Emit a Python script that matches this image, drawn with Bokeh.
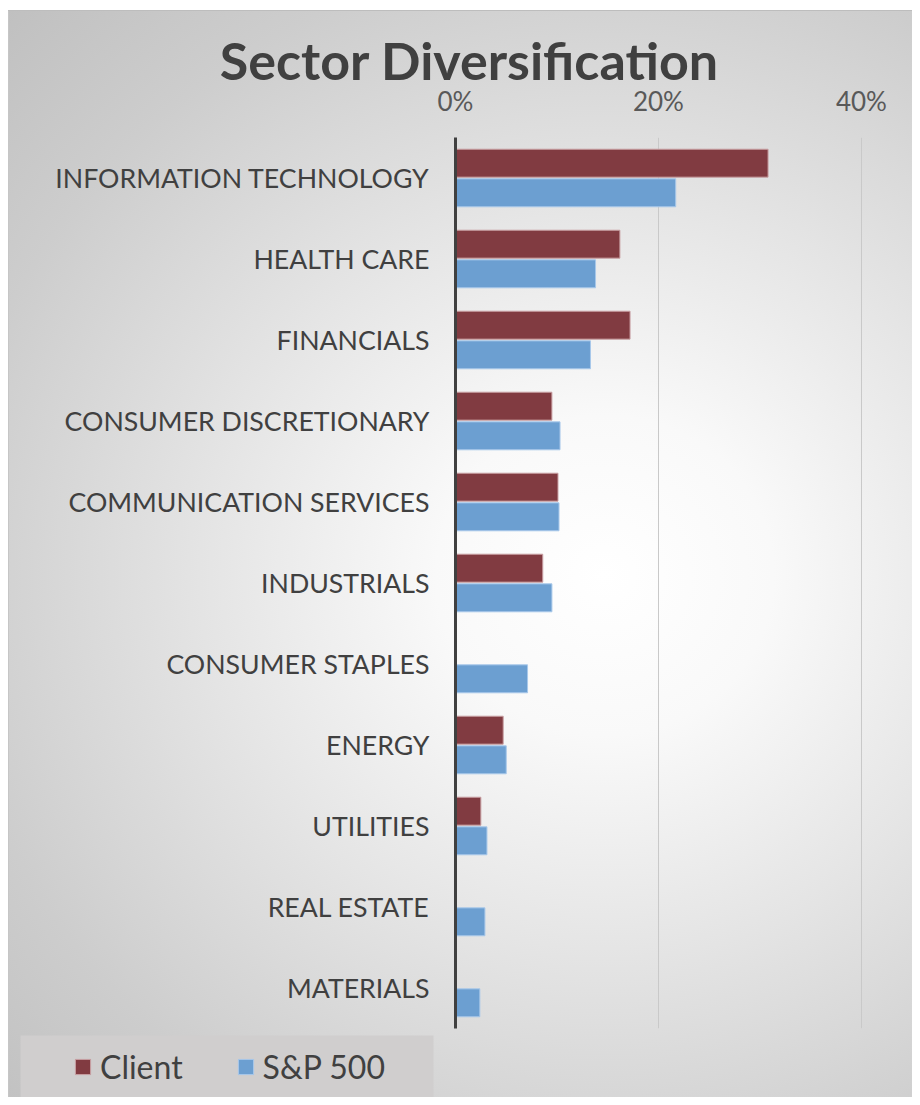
from bokeh.plotting import figure
from bokeh.layouts import column
from bokeh.models import (FactorRange, FixedTicker, Legend, LegendItem, Label,
                          ColumnDataSource, Range1d)
from bokeh.transform import dodge
from bokeh.embed import file_html
from bokeh.resources import INLINE

# ---------------- data ----------------
categories = ["INFORMATION TECHNOLOGY", "HEALTH CARE", "FINANCIALS",
              "CONSUMER DISCRETIONARY", "COMMUNICATION SERVICES", "INDUSTRIALS",
              "CONSUMER STAPLES", "ENERGY", "UTILITIES", "REAL ESTATE", "MATERIALS"]
client = [30.8, 16.2, 17.2, 9.5, 10.1, 8.6, 0.0, 4.7, 2.5, 0.0, 0.0]
sp500 = [21.7, 13.8, 13.3, 10.3, 10.2, 9.5, 7.1, 5.0, 3.1, 2.9, 2.4]
series_names = ["Client", "S&P 500"]
tick_values = [0, 20, 40]
tick_labels = ["0%", "20%", "40%"]
title_text = "Sector Diversification"

CLIENT_FILL, CLIENT_LINE = "#813B41", "#C9A0A4"
SP_FILL, SP_LINE = "#6C9FD1", "#A8C8EA"
TEXT = "#404040"
W = 912
OVERLAP = 15


def transparent(fig):
    fig.background_fill_alpha = 0
    fig.border_fill_alpha = 0
    fig.outline_line_alpha = 0


# ---------------- title strip ----------------
pt = figure(width=W, height=94, output_backend="svg", toolbar_location=None,
            x_axis_location=None, y_axis_location=None,
            x_range=Range1d(0, 1), y_range=Range1d(0, 1), frame_align=False,
            min_border_left=0, min_border_right=0, min_border_top=0, min_border_bottom=0)
transparent(pt)
pt.grid.visible = False
pt.add_layout(Label(x=469, y=34.5, x_units="screen", y_units="screen", text=title_text,
                    text_align="center", text_baseline="alphabetic",
                    text_font="Lato", text_font_style="bold", text_font_size="52px",
                    text_color=TEXT))

# ---------------- main chart ----------------
p = figure(width=W, height=953, output_backend="svg", toolbar_location=None,
           y_range=FactorRange(factors=list(reversed(categories)), range_padding=0),
           x_range=Range1d(0, 40.5), x_axis_location="above", frame_align=False,
           min_border_left=455, min_border_right=46, min_border_top=58,
           min_border_bottom=4, styles={"margin-top": f"-{OVERLAP}px"})
transparent(p)

src = ColumnDataSource(dict(cat=categories, client=client, sp=sp500))
p.hbar(y=dodge("cat", 0.183, range=p.y_range), left=0, right="client",
       height=0.345, source=src, fill_color=CLIENT_FILL,
       line_color=CLIENT_LINE, line_width=1)
p.hbar(y=dodge("cat", -0.183, range=p.y_range), left=0, right="sp",
       height=0.345, source=src, fill_color=SP_FILL,
       line_color=SP_LINE, line_width=1)

xa = p.xaxis[0]
xa.ticker = FixedTicker(ticks=tick_values)
xa.major_label_overrides = {v: l for v, l in zip(tick_values, tick_labels)}
xa.axis_line_alpha = 0
xa.major_tick_line_alpha = 0
xa.minor_tick_line_alpha = 0
xa.major_tick_out = 0
xa.major_tick_in = 0
xa.major_label_standoff = 21
xa.major_label_text_font = "Lato"
xa.major_label_text_font_size = "26px"
xa.major_label_text_color = "#595959"

p.xgrid.ticker = FixedTicker(ticks=tick_values)
p.xgrid.grid_line_color = "#c9c9c9"
p.xgrid.grid_line_width = 1
p.ygrid.grid_line_alpha = 0

ya = p.yaxis[0]
ya.axis_line_color = TEXT
ya.axis_line_width = 3
ya.major_tick_line_alpha = 0
ya.minor_tick_line_alpha = 0
ya.major_tick_out = 0
ya.major_tick_in = 0
ya.major_label_standoff = 26
ya.major_label_text_font = "Lato"
ya.major_label_text_font_size = "26.7px"
ya.major_label_text_color = TEXT

# ---------------- legend strip ----------------
pl = figure(width=W, height=65, output_backend="svg", toolbar_location=None,
            x_axis_location=None, y_axis_location=None,
            x_range=Range1d(0, 1), y_range=Range1d(0, 1), frame_align=False,
            min_border_left=20, min_border_right=W - 433, min_border_top=3,
            min_border_bottom=0)
pl.border_fill_alpha = 0
pl.outline_line_alpha = 0
pl.background_fill_color = "#D0CECE"
pl.grid.visible = False
# legend-key renderers (placed outside the visible range; only their style is shown)
key_src = ColumnDataSource(dict(y=[-5.0], right=[0.0]))
k1 = pl.hbar(y="y", right="right", height=0.1, source=key_src,
             fill_color=CLIENT_FILL, line_color=CLIENT_LINE, line_width=1)
k2 = pl.hbar(y="y", right="right", height=0.1, source=key_src,
             fill_color=SP_FILL, line_color=SP_LINE, line_width=1)
legend = Legend(items=[LegendItem(label=series_names[0], renderers=[k1]),
                       LegendItem(label=series_names[1], renderers=[k2])],
                location=(53, 11), orientation="horizontal", padding=0, margin=0,
                spacing=53, label_standoff=8, glyph_width=19, glyph_height=19,
                label_text_font="Lato", label_text_font_size="32px",
                label_text_color=TEXT, background_fill_alpha=0,
                border_line_alpha=0)
pl.add_layout(legend)

bg = ("linear-gradient(#bdbdbd, #bdbdbd) 8px 10px / 100% 1px no-repeat, "
      "linear-gradient(#c6c6c6, #c6c6c6) 8px 10px / 1px 100% no-repeat, "
      "radial-gradient(ellipse farthest-corner at 66% 52%, #ffffff 0%, #f9f9f9 20%, "
      "#e4e4e4 48%, #cdcdcd 78%, #c0c0c0 100%) 8px 10px / calc(100% - 8px) "
      "calc(100% - 10px) no-repeat, #ffffff")
layout = column(pt, p, pl, spacing=0, styles={"background": bg})

open("out.html", "w").write(file_html(layout, INLINE))
